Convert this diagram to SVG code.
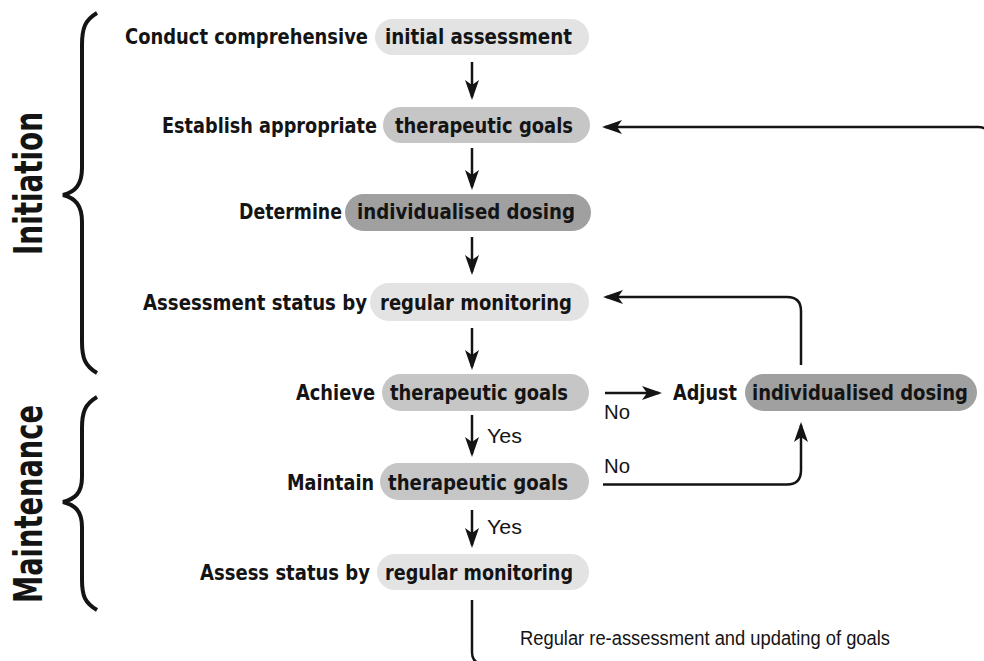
<svg xmlns="http://www.w3.org/2000/svg" width="984" height="661" viewBox="0 0 984 661">
<defs>
<style>
.lbl{font-family:"DejaVu Sans Condensed","DejaVu Sans",sans-serif;font-stretch:condensed;font-weight:bold;font-size:22px;fill:#141414}
.side{font-family:"DejaVu Sans Condensed","DejaVu Sans",sans-serif;font-stretch:condensed;font-weight:bold;font-size:39px;fill:#141414}
.reg{font-family:"Liberation Sans",Arial,sans-serif;font-size:20px;fill:#141414}
.light{fill:#e3e3e3}
.mid{fill:#c6c6c6}
.dark{fill:#a0a0a0}
.conn{fill:none;stroke:#141414;stroke-width:2.5}
.brace{fill:none;stroke:#141414;stroke-width:4;stroke-linecap:butt}
</style>
<marker id="ah" markerUnits="userSpaceOnUse" viewBox="0 0 20 14" markerWidth="20" markerHeight="14" refX="17" refY="7" orient="auto">
<path d="M0,0 L20,7 L0,14 L5,7 Z" fill="#141414"/>
</marker>
</defs>
<rect width="984" height="661" fill="#ffffff"/>

<g id="brace-initiation">
<path class="brace" d="M97,13 C85,20 82,28 82,45 L82,168 C82,185 75,192 63,195 C75,198 82,205 82,222 L82,342 C82,358 85,366 97,373"/>
<text class="side" transform="translate(42,183.5) rotate(-90)" text-anchor="middle" textLength="143" lengthAdjust="spacingAndGlyphs">Initiation</text>
</g>
<g id="brace-maintenance">
<path class="brace" d="M97,397 C85,404 82,412 82,428 L82,477 C82,493 75,499 63,502 C75,505 82,511 82,527 L82,580 C82,596 85,603 97,610"/>
<text class="side" transform="translate(42,504) rotate(-90)" text-anchor="middle" textLength="198" lengthAdjust="spacingAndGlyphs">Maintenance</text>
</g>

<g id="n1">
<rect class="light" x="375" y="19" width="214" height="36" rx="18"/>
<text class="lbl" x="125" y="44" textLength="243" lengthAdjust="spacingAndGlyphs">Conduct comprehensive</text>
<text class="lbl" x="385" y="44" textLength="187" lengthAdjust="spacingAndGlyphs">initial assessment</text>
</g>
<g id="n2">
<rect class="mid" x="383" y="107" width="207" height="36" rx="18"/>
<text class="lbl" x="162" y="133" textLength="215" lengthAdjust="spacingAndGlyphs">Establish appropriate</text>
<text class="lbl" x="395" y="133" textLength="178" lengthAdjust="spacingAndGlyphs">therapeutic goals</text>
</g>
<g id="n3">
<rect class="dark" x="345" y="194" width="246" height="37" rx="18.5"/>
<text class="lbl" x="239" y="219" textLength="103" lengthAdjust="spacingAndGlyphs">Determine</text>
<text class="lbl" x="357" y="219" textLength="218" lengthAdjust="spacingAndGlyphs">individualised dosing</text>
</g>
<g id="n4">
<rect class="light" x="370" y="283" width="219" height="38" rx="19"/>
<text class="lbl" x="143" y="310" textLength="224" lengthAdjust="spacingAndGlyphs">Assessment status by</text>
<text class="lbl" x="380" y="310" textLength="192" lengthAdjust="spacingAndGlyphs">regular monitoring</text>
</g>
<g id="n5">
<rect class="mid" x="382" y="374" width="207" height="37" rx="18.5"/>
<text class="lbl" x="296" y="400" textLength="79" lengthAdjust="spacingAndGlyphs">Achieve</text>
<text class="lbl" x="390" y="400" textLength="178" lengthAdjust="spacingAndGlyphs">therapeutic goals</text>
</g>
<g id="n6">
<rect class="dark" x="745" y="374" width="232" height="37" rx="18.5"/>
<text class="lbl" x="673" y="400" textLength="64" lengthAdjust="spacingAndGlyphs">Adjust</text>
<text class="lbl" transform="translate(752,400) scale(0.8,1)" x="0" y="0" textLength="270" lengthAdjust="spacingAndGlyphs">individualised dosing</text>
</g>
<g id="n7">
<rect class="mid" x="380" y="463" width="209" height="37" rx="18.5"/>
<text class="lbl" x="287" y="490" textLength="87" lengthAdjust="spacingAndGlyphs">Maintain</text>
<text class="lbl" x="388" y="490" textLength="180" lengthAdjust="spacingAndGlyphs">therapeutic goals</text>
</g>
<g id="n8">
<rect class="light" x="377" y="554" width="212" height="36" rx="18"/>
<text class="lbl" x="200" y="580" textLength="170" lengthAdjust="spacingAndGlyphs">Assess status by</text>
<text class="lbl" x="385" y="580" textLength="188" lengthAdjust="spacingAndGlyphs">regular monitoring</text>
</g>

<g id="connectors">
<path class="conn" d="M472,62 L472,97" marker-end="url(#ah)"/>
<path class="conn" d="M472,148 L472,187" marker-end="url(#ah)"/>
<path class="conn" d="M472,237 L472,272" marker-end="url(#ah)"/>
<path class="conn" d="M472,328 L472,367" marker-end="url(#ah)"/>
<path class="conn" d="M472,415 L472,454" marker-end="url(#ah)"/>
<path class="conn" d="M472,510 L472,545" marker-end="url(#ah)"/>
<path class="conn" d="M605,393 L659,393" marker-end="url(#ah)"/>
<path class="conn" d="M603,484.5 L787,484.5 Q801,484.5 801,470 L801,425" marker-end="url(#ah)"/>
<path class="conn" d="M801,365 L801,311 Q801,297 787,297 L606,297" marker-end="url(#ah)"/>
<path class="conn" d="M472,600 L472,652 Q472,664 484,664 L1000,664"/>
<path class="conn" d="M1000,220 L990,220 L990,139 Q990,127 978,127 L605,127" marker-end="url(#ah)"/>
<text class="reg" x="487" y="443" textLength="35" lengthAdjust="spacingAndGlyphs">Yes</text>
<text class="reg" x="487" y="534" textLength="35" lengthAdjust="spacingAndGlyphs">Yes</text>
<text class="reg" x="604" y="419" textLength="26" lengthAdjust="spacingAndGlyphs">No</text>
<text class="reg" x="604" y="473" textLength="26" lengthAdjust="spacingAndGlyphs">No</text>
<text class="reg" x="520" y="645" textLength="370" lengthAdjust="spacingAndGlyphs">Regular re-assessment and updating of goals</text>
</g>
</svg>
